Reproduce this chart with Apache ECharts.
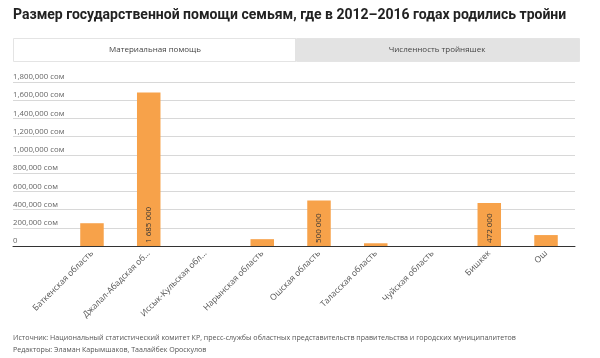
<!DOCTYPE html>
<html>
<head>
<meta charset="utf-8">
<script src="https://cdn.jsdelivr.net/npm/echarts@6/dist/echarts.min.js"></script>
<style>
html,body{margin:0;padding:0;background:#fff;}
#chart{width:600px;height:358px;}
</style>
</head>
<body>
<div id="chart"></div>
<script>
var titleText = 'Размер государственной помощи семьям, где в 2012–2016 годах родились тройни';
var tabLabels = ['Материальная помощь', 'Численность тройняшек'];
var categories = ['Баткенская область', 'Джалал-Абадская область', 'Иссык-Кульская область', 'Нарынская область', 'Ошская область', 'Таласская область', 'Чуйская область', 'Бишкек', 'Ош'];
var values = [250000, 1685000, 0, 75000, 500000, 30000, 0, 472000, 120000];
var yTicks = [0, 200000, 400000, 600000, 800000, 1000000, 1200000, 1400000, 1600000, 1800000];
var sourceText = 'Источник: Национальный статистический комитет КР, пресс-службы областных представительств правительства и городских муниципалитетов';
var editorsText = 'Редакторы: Эламан Карымшаков, Таалайбек Ороскулов';

var FONT = "'Open Sans', sans-serif";
var TFONT = "Roboto, sans-serif";
var LABEL_MIN = 400000;
var XFONT = "8.5px 'Open Sans', sans-serif";
var XLABEL_MAX = 91;

function spaced(v){ return String(v).replace(/\B(?=(\d{3})+(?!\d))/g, ' '); }
function commas(v){ return String(v).replace(/\B(?=(\d{3})+(?!\d))/g, ','); }

var ctx = document.createElement('canvas').getContext('2d');
ctx.font = XFONT;
function trunc(s){
  if (ctx.measureText(s).width <= XLABEL_MAX) return s;
  var t = s;
  while (t.length > 1 && ctx.measureText(t + '...').width > XLABEL_MAX) t = t.slice(0, -1);
  return t.replace(/\s+$/, '') + '...';
}

var chart = echarts.init(document.getElementById('chart'), null, {renderer:'canvas'});
var yMax = yTicks[yTicks.length-1];
var yStep = yTicks[1]-yTicks[0];

var option = {
  animation:false,
  textStyle:{fontFamily:FONT},
  title:{
    text:titleText, left:13, top:8, padding:0,
    textStyle:{fontFamily:TFONT, fontSize:14, fontWeight:'bold', color:'#222'}
  },
  graphic:[
    {type:'rect', shape:{x:13.5,y:38.5,width:566,height:23}, style:{fill:'#fff', stroke:'#e4e4e4', lineWidth:1}, z:1},
    {type:'rect', shape:{x:295,y:39,width:284,height:22}, style:{fill:'#e3e3e3'}, z:2},
    {type:'text', x:155, y:50, style:{text:tabLabels[0], fill:'#444', font:'8px ' + FONT, textAlign:'center', textVerticalAlign:'middle'}, z:3},
    {type:'text', x:437, y:50, style:{text:tabLabels[1], fill:'#444', font:'8px ' + FONT, textAlign:'center', textVerticalAlign:'middle'}, z:3},
    {type:'text', x:13, y:338, style:{text:sourceText, fill:'#555', font:'7.1px ' + FONT, textVerticalAlign:'middle'}},
    {type:'text', x:13, y:350, style:{text:editorsText, fill:'#555', font:'7.1px ' + FONT, textVerticalAlign:'middle'}}
  ],
  grid:[
    {left:13, right:25, top:82, bottom:112},
    {left:63.6, right:25.6, top:82, bottom:112}
  ],
  xAxis:[
    {gridIndex:0, type:'category', data:[''], axisLine:{show:true, lineStyle:{color:'#333', width:1}}, axisTick:{show:false}, axisLabel:{show:false}},
    {gridIndex:1, type:'category', data:categories, axisLine:{show:false}, axisTick:{show:false},
      axisLabel:{rotate:45, fontSize:8.5, color:'#555', margin:6, interval:0, fontFamily:FONT,
        formatter:function(v){ return trunc(v); }}}
  ],
  yAxis:[
    {gridIndex:0, type:'value', min:0, max:yMax, interval:yStep,
      axisLine:{show:false}, axisTick:{show:false},
      splitLine:{show:true, lineStyle:{color:'#d8d8d8', width:1}},
      axisLabel:{inside:true, fontSize:7.8, color:'#666', verticalAlign:'bottom', align:'left', padding:[0,0,1,0], margin:0, fontFamily:FONT,
        formatter:function(v){ return v===0 ? '0' : commas(v) + ' сом'; }}},
    {gridIndex:1, type:'value', min:0, max:yMax, interval:yStep, show:false, splitLine:{show:false}}
  ],
  series:[{
    type:'bar', xAxisIndex:1, yAxisIndex:1, barWidth:23.5,
    itemStyle:{color:'#f7a24a'},
    data:values.map(function(v){
      return {value:v, label:{show: v>=LABEL_MIN}};
    }),
    label:{position:'insideBottom', rotate:90, align:'left', verticalAlign:'middle', distance:3,
      fontSize:8, color:'#333', fontFamily:FONT,
      formatter:function(p){ return spaced(p.value); }}
  }]
};
chart.setOption(option);
</script>
</body>
</html>
